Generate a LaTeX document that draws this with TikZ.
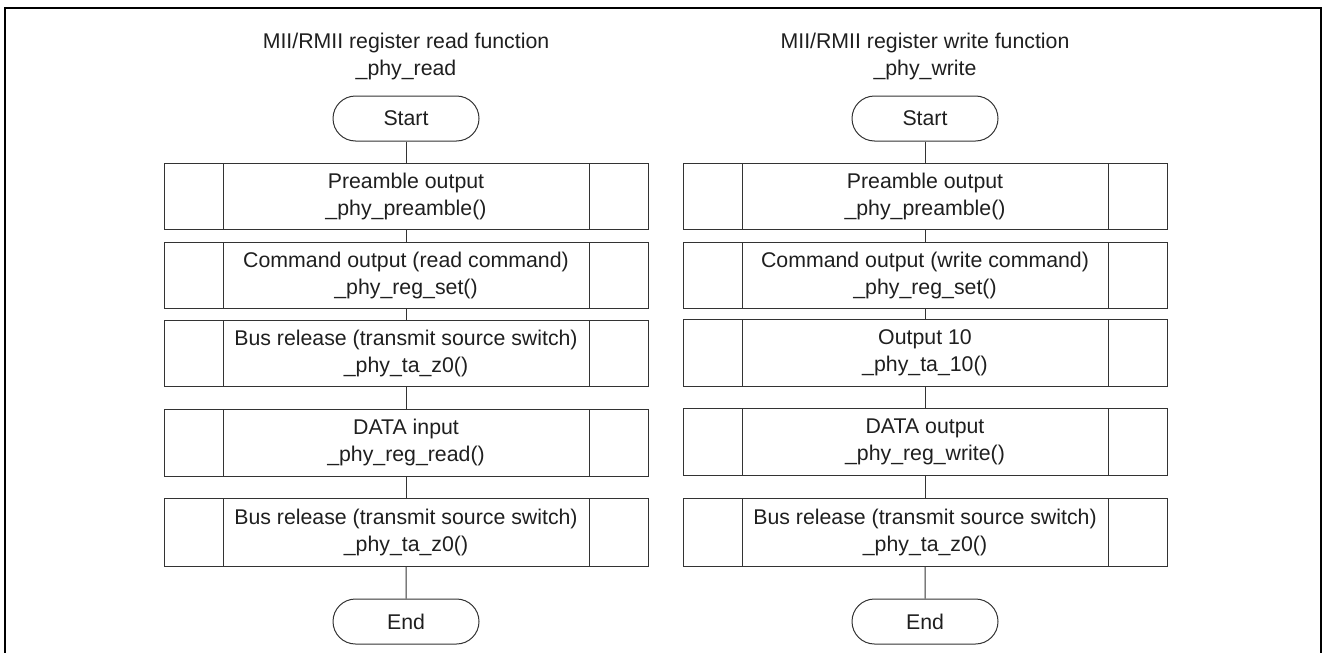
\documentclass[tikz,border=0pt]{standalone}
\usepackage{fontspec}
\setmainfont{Liberation Sans}
\usetikzlibrary{shapes.misc}
\begin{document}
\begin{tikzpicture}[x=1pt,y=-1pt,
  every node/.style={font=\fontsize{21.3}{27}\selectfont, text=black!88},
  ln/.style={draw=black!80, line width=1pt},
  procbox/.style={ln, rectangle, minimum width=484pt, inner sep=0pt, align=center,
    path picture={
      \draw[black!80, line width=1pt] ([xshift=59pt]path picture bounding box.north west) -- ([xshift=59pt]path picture bounding box.south west);
      \draw[black!80, line width=1pt] ([xshift=-59pt]path picture bounding box.north east) -- ([xshift=-59pt]path picture bounding box.south east);
    }},
  term/.style={ln, rounded rectangle, minimum width=146pt, minimum height=45pt, inner sep=0pt},
  ttl/.style={align=center, inner sep=0pt}
]
\useasboundingbox (0,0) rectangle (1328,653);
\draw[line width=2.2pt, black] (5,653) -- (5,8) -- (1321,8) -- (1321,653);

% left chart
\node[ttl] (lt) at (406,56) {MII/RMII register read function\\\_phy\_read};
\node[term] (ls) at (406,118.5) {Start};
\node[procbox, minimum height=66pt] (l1) at (406,196) {Preamble output\\\_phy\_preamble()};
\node[procbox, minimum height=66pt] (l2) at (406,275) {Command output (read command)\\\_phy\_reg\_set()};
\node[procbox, minimum height=66pt] (l3) at (406,353) {Bus release (transmit source switch)\\\_phy\_ta\_z0()};
\node[procbox, minimum height=67pt] (l4) at (406,442.5) {DATA input\\\_phy\_reg\_read()};
\node[procbox, minimum height=68pt] (l5) at (406,532) {Bus release (transmit source switch)\\\_phy\_ta\_z0()};
\node[term] (le) at (406,621.5) {End};
\draw[ln] (ls) -- (l1);
\draw[ln] (l1) -- (l2);
\draw[ln] (l2) -- (l3);
\draw[ln] (l3) -- (l4);
\draw[ln] (l4) -- (l5);
\draw[ln] (l5) -- (le);

% right chart
\node[ttl] (rt) at (925,56) {MII/RMII register write function\\\_phy\_write};
\node[term] (rs) at (925,118.5) {Start};
\node[procbox, minimum height=66pt] (r1) at (925,196) {Preamble output\\\_phy\_preamble()};
\node[procbox, minimum height=66pt] (r2) at (925,275) {Command output (write command)\\\_phy\_reg\_set()};
\node[procbox, minimum height=67pt] (r3) at (925,353) {Output 10\\\_phy\_ta\_10()};
\node[procbox, minimum height=67pt] (r4) at (925,442) {DATA output\\\_phy\_reg\_write()};
\node[procbox, minimum height=68pt] (r5) at (925,532) {Bus release (transmit source switch)\\\_phy\_ta\_z0()};
\node[term] (re) at (925,621.5) {End};
\draw[ln] (rs) -- (r1);
\draw[ln] (r1) -- (r2);
\draw[ln] (r2) -- (r3);
\draw[ln] (r3) -- (r4);
\draw[ln] (r4) -- (r5);
\draw[ln] (r5) -- (re);
\end{tikzpicture}
\end{document}
